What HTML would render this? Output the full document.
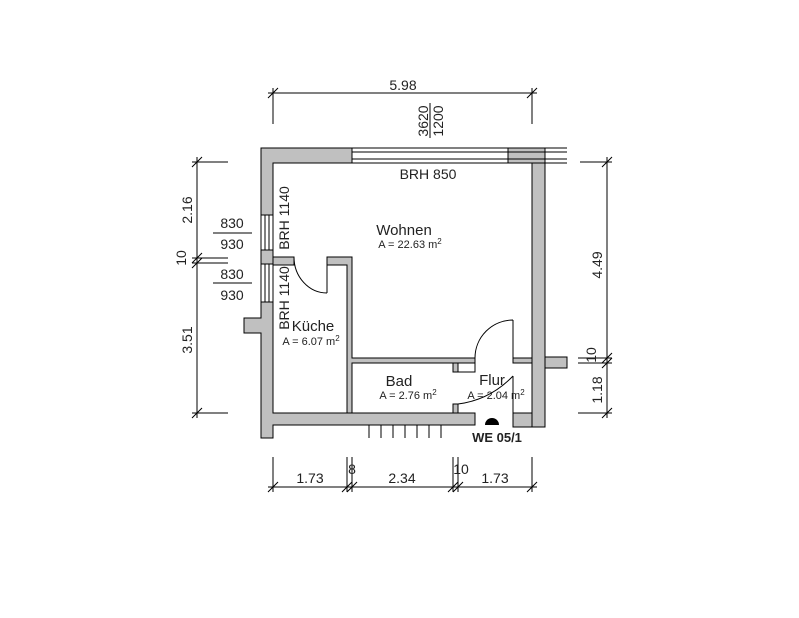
<!DOCTYPE html><html><head><style>body{margin:0;background:#fff}svg{display:block;font-family:"Liberation Sans",sans-serif}</style></head><body>
<svg width="799" height="618" viewBox="0 0 799 618">
<g fill="#c0c0c0" stroke="#000" stroke-width="1">
<polygon points="261,148 352,148 352,163 273,163 273,215 261,215"/>
<polygon points="508,148 545,148 545,427 532,427 532,163 508,163"/>
<rect x="545" y="357" width="22" height="11"/>
<rect x="261" y="250" width="12" height="14"/>
<polygon points="261,302 273,302 273,413 475,413 475,425 273,425 273,438 261,438 261,333 244,333 244,318 261,318"/>
<rect x="513" y="413" width="19" height="14"/>
<rect x="273" y="257" width="21" height="8"/>
<polygon points="327,257 352,257 352,358 475,358 475,363 352,363 352,413 347,413 347,265 327,265"/>
<rect x="453" y="363" width="5" height="9"/>
<rect x="453" y="404" width="5" height="9"/>
<rect x="458" y="363" width="17" height="9" fill="#fff"/>
<rect x="513" y="358" width="19" height="5"/>
</g>
<g stroke="#000" fill="none" stroke-width="1">
<path d="M352,148H567M352,163H567M352,152H567M352,159H567M261,215V250M273,215V250M265,215V250M269,215V250M261,264V302M273,264V302M265,264V302M269,264V302"/>
<path d="M458,363H475V372H458"/>
<path d="M327,265V293M294,257A33,36 0 0 0 327,293"/>
<path d="M513,320V358M475,358A38,38 0 0 1 513,320"/>
<path d="M513,376V413M458,404Q490,400 513,376"/>
<path d="M369,425V438M381,425V438M393,425V438M405,425V438M417,425V438M429,425V438M441,425V438"/>
<!-- top dim -->
<path d="M268,93H537M273,88V124M532,88V124M268,98L278,88M527,98L537,88M430,103V138"/>
<!-- left dim -->
<path d="M197,157V418M192,162H228M192,258H228M192,263H228M192,413H228M192,167L202,157M192,263L202,253M192,268L202,258M192,418L202,408M213,233H252M213,283H252"/>
<!-- right dim -->
<path d="M607,157V418M580,162H612M578,358H612M578,363H612M578,413H612M602,167L612,157M602,363L612,353M602,368L612,358M602,418L612,408"/>
<!-- bottom dim -->
<path d="M268,487H537M273,457V492M347,457V492M352,457V492M453,457V492M458,457V492M532,457V492M268,492L278,482M342,492L352,482M347,492L357,482M448,492L458,482M453,492L463,482M527,492L537,482"/>
</g>
<path d="M485,425A7,7 0 0 1 499,425Z" fill="#000"/>
<g fill="#222" font-size="14">
<text x="403" y="90" text-anchor="middle">5.98</text>
<text transform="translate(428,121) rotate(-90)" text-anchor="middle">3620</text>
<text transform="translate(443,121) rotate(-90)" text-anchor="middle">1200</text>
<text x="428" y="179" text-anchor="middle">BRH 850</text>
<text x="404" y="235" text-anchor="middle" font-size="15">Wohnen</text>
<text x="410" y="248" text-anchor="middle" font-size="11">A = 22.63 m<tspan dy="-4" font-size="8">2</tspan></text>
<text transform="translate(289,218) rotate(-90)" text-anchor="middle">BRH 1140</text>
<text transform="translate(289,298) rotate(-90)" text-anchor="middle">BRH 1140</text>
<text x="313" y="331" text-anchor="middle" font-size="15">Küche</text>
<text x="311" y="345" text-anchor="middle" font-size="11">A = 6.07 m<tspan dy="-4" font-size="8">2</tspan></text>
<text x="399" y="386" text-anchor="middle" font-size="15">Bad</text>
<text x="408" y="399" text-anchor="middle" font-size="11">A = 2.76 m<tspan dy="-4" font-size="8">2</tspan></text>
<text x="492" y="385" text-anchor="middle" font-size="15">Flur</text>
<text x="496" y="399" text-anchor="middle" font-size="11">A = 2.04 m<tspan dy="-4" font-size="8">2</tspan></text>
<text x="497" y="442" text-anchor="middle" font-weight="bold" font-size="13">WE 05/1</text>
<text transform="translate(192,210) rotate(-90)" text-anchor="middle">2.16</text>
<text transform="translate(186,258) rotate(-90)" text-anchor="middle">10</text>
<text transform="translate(192,340) rotate(-90)" text-anchor="middle">3.51</text>
<text x="232" y="228" text-anchor="middle">830</text>
<text x="232" y="249" text-anchor="middle">930</text>
<text x="232" y="279" text-anchor="middle">830</text>
<text x="232" y="300" text-anchor="middle">930</text>
<text transform="translate(602,265) rotate(-90)" text-anchor="middle">4.49</text>
<text transform="translate(596,355) rotate(-90)" text-anchor="middle">10</text>
<text transform="translate(602,390) rotate(-90)" text-anchor="middle">1.18</text>
<text x="310" y="483" text-anchor="middle">1.73</text>
<text x="352" y="474" text-anchor="middle">8</text>
<text x="402" y="483" text-anchor="middle">2.34</text>
<text x="461" y="474" text-anchor="middle">10</text>
<text x="495" y="483" text-anchor="middle">1.73</text>
</g>
</svg></body></html>
